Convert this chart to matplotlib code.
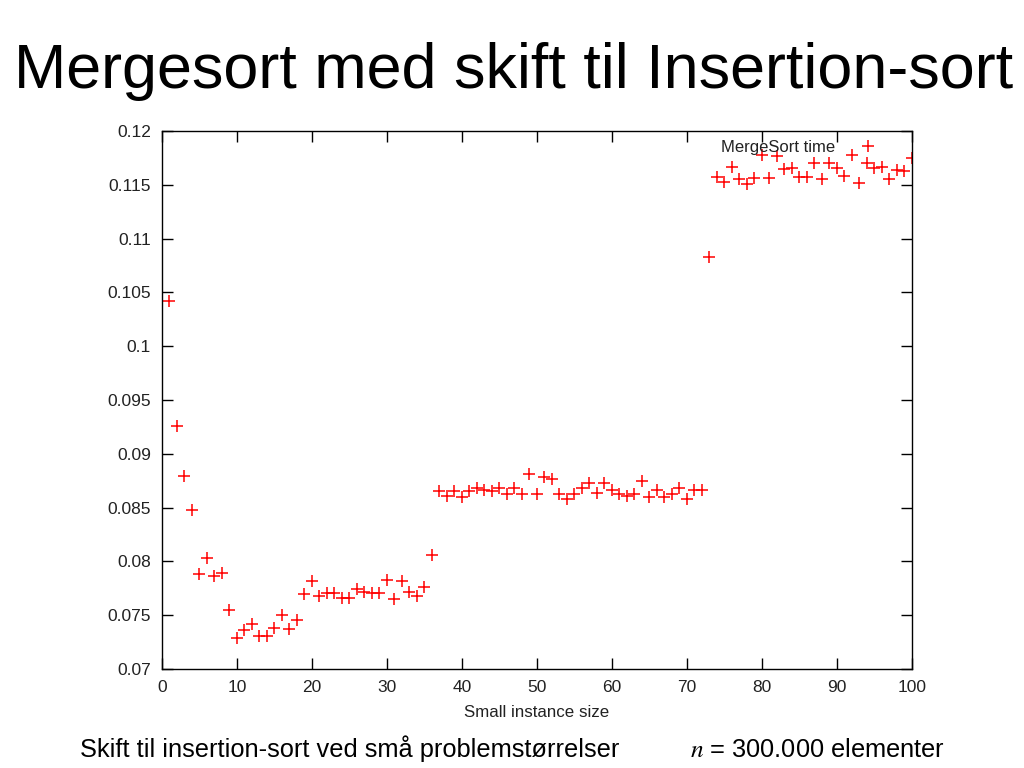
import matplotlib
matplotlib.use("Agg")
import matplotlib.pyplot as plt
import numpy as np

plt.rcParams['font.family'] = ['Liberation Sans', 'DejaVu Sans']
plt.rcParams['mathtext.fontset'] = 'stix'

# small instance size 1..100
sizes = list(range(1, 101))
times = [
    0.1042, 0.0926, 0.0879, 0.0848, 0.0788, 0.0803, 0.0786, 0.0789, 0.0755, 0.0729,
    0.0736, 0.0742, 0.0731, 0.0731, 0.0738, 0.0750, 0.0737, 0.0746, 0.0770, 0.0782,
    0.0768, 0.0771, 0.0771, 0.0766, 0.0766, 0.0774, 0.0772, 0.0771, 0.0771, 0.0783,
    0.0765, 0.0782, 0.0772, 0.0768, 0.0776, 0.0806, 0.0865, 0.0861, 0.0865, 0.0860,
    0.0865, 0.0868, 0.0866, 0.0865, 0.0868, 0.0863, 0.0868, 0.0863, 0.0881, 0.0863,
    0.0878, 0.0877, 0.0863, 0.0858, 0.0863, 0.0868, 0.0873, 0.0864, 0.0873, 0.0866,
    0.0863, 0.0861, 0.0863, 0.0875, 0.0860, 0.0866, 0.0860, 0.0863, 0.0868, 0.0858,
    0.0866, 0.0866, 0.1083, 0.1157, 0.1153, 0.1167, 0.1155, 0.1151, 0.1156, 0.1178,
    0.1156, 0.1177, 0.1165, 0.1166, 0.1157, 0.1157, 0.1170, 0.1155, 0.1170, 0.1166,
    0.1158, 0.1178, 0.1152, 0.1170, 0.1166, 0.1167, 0.1155, 0.1164, 0.1163, 0.1175,
]

xticks = list(range(0, 101, 10))
yticks = [0.07, 0.075, 0.08, 0.085, 0.09, 0.095, 0.1, 0.105, 0.11, 0.115, 0.12]
ytick_labels = ['0.07', '0.075', '0.08', '0.085', '0.09', '0.095', '0.1',
                '0.105', '0.11', '0.115', '0.12']

fig = plt.figure(figsize=(10.24, 7.68), dpi=100)
ax = fig.add_axes([0.1582, 0.1289, 0.7324, 0.7005])

ax.plot(sizes, times, linestyle='none', marker='+', color='#ff0000',
        markersize=9, markeredgewidth=1.1, label='MergeSort time')

ax.set_xlim(0, 100)
ax.set_ylim(0.07, 0.12)
ax.set_xticks(xticks)
ax.set_yticks(yticks)
ax.set_yticklabels(ytick_labels)
ax.tick_params(direction='in', length=8, width=1, top=True, right=True,
               labelsize=12.5, labelcolor='#222222', color='black', pad=8)
for sp in ax.spines.values():
    sp.set_linewidth(1)
ax.set_xlabel('Small instance size', fontsize=12.2, labelpad=7, color='#222222')

# gnuplot-style key: text first, sample on the right
leg = ax.legend(loc='upper right', frameon=False, markerfirst=False,
                prop={'size': 12}, handlelength=1.5, bbox_to_anchor=(0.978, 1.012),
                handletextpad=1.2)
for t in leg.get_texts():
    t.set_color('#222222')

fig.text(0.502, 0.8854, 'Mergesort med skift til Insertion-sort', ha='center',
         va='baseline', fontsize=45.3)
fig.text(0.078, 0.0143, 'Skift til insertion-sort ved små problemstørrelser',
         ha='left', va='baseline', fontsize=18.3)
fig.text(0.674, 0.0143, '$n$ = 300.000 elementer', ha='left',
         va='baseline', fontsize=18.3)

fig.savefig('out.png', dpi=100)
